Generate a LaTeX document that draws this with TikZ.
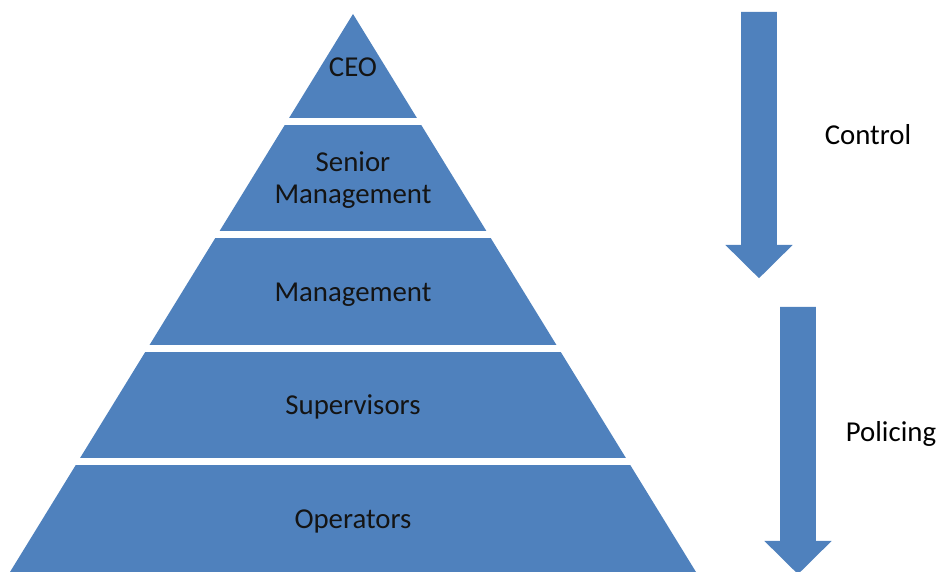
\documentclass[tikz,border=0pt]{standalone}
\usepackage{fontspec}
\setmainfont{Carlito}
\usepackage{xcolor}
\definecolor{pyrblue}{RGB}{79,129,189}
\definecolor{pyrtext}{RGB}{20,20,20}
\usetikzlibrary{positioning}

\begin{document}
\begin{tikzpicture}[
    % GLOBAL CFG
    font=\fontsize{20.5pt}{23pt}\selectfont,
    % Styles
    layer/.style={% For the pyramid body
        fill=pyrblue,
        draw=none,
        },
    gap/.style={% White bands between the levels
        draw=white,
        line width=0.175cm,
        },
    level/.style={% Text on each level
        text=pyrtext,
        align=center,
        inner sep=1pt,
        },
    flow/.style={% The big arrows
        fill=pyrblue,
        draw=none,
        },
    side/.style={% Text beside the arrows
        text=black,
        inner sep=1pt,
        },
    ]

    \useasboundingbox (0,0) rectangle (23.75,-14.3);

    % Draw the pyramid
    \coordinate (apex) at (8.825,-0.35);
    \coordinate (bl) at (0.25,-14.3);
    \coordinate (br) at (17.4,-14.3);
    \fill [layer] (apex) -- (bl) -- (br) -- cycle;

    % Cut it into levels
    \foreach \y in {-3.0375,-5.875,-8.7125,-11.55}
        \draw [gap] (0,\y) -- (18,\y);

    % Level names
    \node [level] (ceo) at (8.825,-1.69) {CEO};
    \node [level] (senior) at (8.825,-4.5) {Senior\\Management};
    \node [level] (mgmt) at (8.825,-7.36) {Management};
    \node [level] (sup) at (8.825,-10.18) {Supervisors};
    \node [level] (ops) at (8.825,-13.03) {Operators};

    % Draw arrows
    \foreach \cx/\top/\base in {18.975/-0.3/-6.125, 19.95/-7.675/-13.525}
        \fill [flow] (\cx-0.445,\top) -- (\cx+0.445,\top) -- (\cx+0.445,\base)
            -- (\cx+0.84,\base) -- (\cx,\base-0.83) -- (\cx-0.84,\base)
            -- (\cx-0.445,\base) -- cycle;

    % Arrow labels
    \node [side] (ctrl) at (21.7,-3.375) {Control};
    \node [side] (polic) at (22.275,-10.85) {Policing};

\end{tikzpicture}
\end{document}
